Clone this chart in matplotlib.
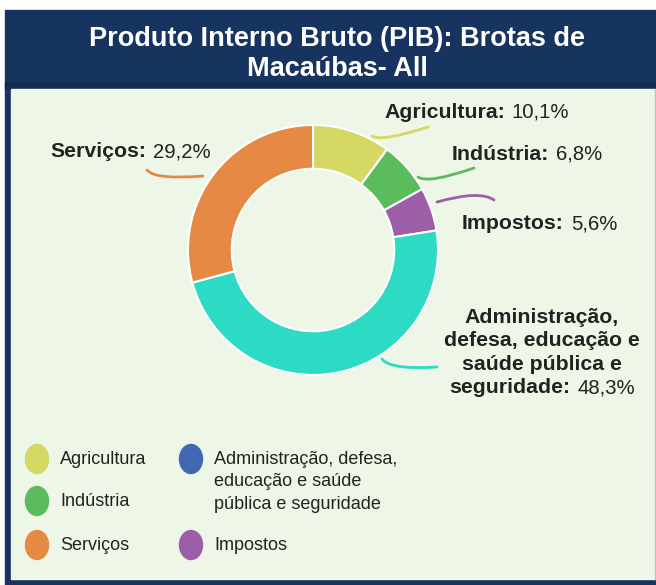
import matplotlib
matplotlib.use("Agg")
import matplotlib.pyplot as plt
from matplotlib.patches import Rectangle, Ellipse, PathPatch
from matplotlib.path import Path

plt.rcParams["font.family"] = ["Liberation Sans", "DejaVu Sans"]

# PIB por setor (%)
setores = ["Agricultura", "Indústria", "Impostos",
           "Administração, defesa, educação e saúde pública e seguridade",
           "Serviços"]
valores = [10.1, 6.8, 5.6, 48.3, 29.2]
cores = ["#D5D862", "#5BBC5E", "#9C5EA7", "#2DDBC4", "#E58944"]

legenda_nomes = ["Agricultura", "Indústria", "Serviços",
                 "Administração, defesa,\neducação e saúde\npública e seguridade",
                 "Impostos"]
legenda_cores = ["#D5D862", "#5BBC5E", "#E58944", "#4169B3", "#9C5EA7"]

AZUL = "#17335F"
FUNDO = "#EEF6E7"
TEXTO = "#222222"
W, H = 656, 585


def fmt(v):
    return f"{v:.1f}".replace(".", ",") + "%"


fig = plt.figure(figsize=(W / 100, H / 100), dpi=100)
fig.patch.set_facecolor("white")

ax = fig.add_axes([0, 0, 1, 1])
ax.set_xlim(0, W)
ax.set_ylim(H, 0)
ax.axis("off")

# moldura, faixa do título e painel
ax.add_patch(Rectangle((5, 10), W - 5, 575, color=AZUL, zorder=0))
ax.add_patch(Rectangle((5, 82), W - 5, 7, color="#112B52", zorder=0))
ax.add_patch(Rectangle((11, 89), W - 12, 490, color=FUNDO, zorder=1))
ax.plot([W - 1.5, W - 1.5], [89, 579], color="#B8C4C0", lw=1, zorder=1)

ax.text(337, 39, "Produto Interno Bruto (PIB): Brotas de", color="white",
        fontsize=19.5, fontweight="bold", ha="center", va="center")
ax.text(337, 69, "Macaúbas- All", color="white",
        fontsize=19.5, fontweight="bold", ha="center", va="center")

# rosca
cx, cy, R = 313, 250, 125
pax = fig.add_axes([(cx - R) / W, (H - cy - R) / H, 2 * R / W, 2 * R / H])
pax.pie(valores, colors=cores, startangle=90, counterclock=False, radius=1,
        wedgeprops=dict(width=0.35, edgecolor="white", linewidth=1.5))
pax.set_xlim(-1, 1)
pax.set_ylim(-1, 1)
pax.set_aspect("equal")
pax.axis("off")

renderer = fig.canvas.get_renderer()
FS_B = 15.3
FS_V = 14.6
GAP = 7


def largura(t):
    bb = t.get_window_extent(renderer=renderer)
    return bb.width  # 1 px = 1 unidade no eixo de fundo


def rotulo(x, y, nome, valor):
    t = ax.text(x, y, nome + ":", fontsize=FS_B, fontweight="bold",
                color=TEXTO, va="baseline", ha="left", zorder=3)
    ax.text(x + largura(t) + GAP, y, fmt(valor), fontsize=FS_V,
            color=TEXTO, va="baseline", ha="left", zorder=3)


rotulo(384, 118, "Agricultura", valores[0])
rotulo(452, 160, "Indústria", valores[1])
rotulo(462, 229, "Impostos", valores[2])
rotulo(50, 157, "Serviços", valores[4])

# rótulo da administração em várias linhas, centrado
xc = 542
for i, linha in enumerate(["Administração,", "defesa, educação e",
                           "saúde pública e"]):
    ax.text(xc, 323 + 23.5 * i, linha, fontsize=FS_B, fontweight="bold",
            color=TEXTO, ha="center", va="baseline", zorder=3)
tb = ax.text(0, 0, "seguridade:", fontsize=FS_B, fontweight="bold")
tv = ax.text(0, 0, fmt(valores[3]), fontsize=FS_V)
wb, wv = largura(tb), largura(tv)
tb.remove()
tv.remove()
x0 = xc - (wb + GAP + wv) / 2
ax.text(x0, 393, "seguridade:", fontsize=FS_B, fontweight="bold",
        color=TEXTO, ha="left", va="baseline", zorder=3)
ax.text(x0 + wb + GAP, 393, fmt(valores[3]), fontsize=FS_V,
        color=TEXTO, ha="left", va="baseline", zorder=3)

# linhas de chamada curvas
chamadas = [
    ((372, 136), (382, 142), (428, 127), cores[0]),
    ((418, 177), (428, 184), (474, 168), cores[1]),
    ((437, 202), (480, 190), (494, 200), cores[2]),
    ((147, 170), (155, 180), (203, 176), cores[4]),
    ((382, 359), (390, 370), (437, 367), cores[3]),
]
for p0, p1, p2, c in chamadas:
    caminho = Path([p0, p1, p2], [Path.MOVETO, Path.CURVE3, Path.CURVE3])
    ax.add_patch(PathPatch(caminho, fill=False, edgecolor=c, lw=2,
                           capstyle="round", zorder=3))

# legenda
pos_legenda = [(37, 459), (37, 501), (37, 545), (191, 459), (191, 545)]
for (lx, ly), nome, c in zip(pos_legenda, legenda_nomes, legenda_cores):
    ax.add_patch(Ellipse((lx, ly), 23, 29, color=c, zorder=3))
    for j, linha in enumerate(nome.split("\n")):
        ax.text(lx + 23, ly + 5 + 22.5 * j, linha, fontsize=13,
                color=TEXTO, ha="left", va="baseline", zorder=3)

fig.savefig("out.png", dpi=100, facecolor="white")
